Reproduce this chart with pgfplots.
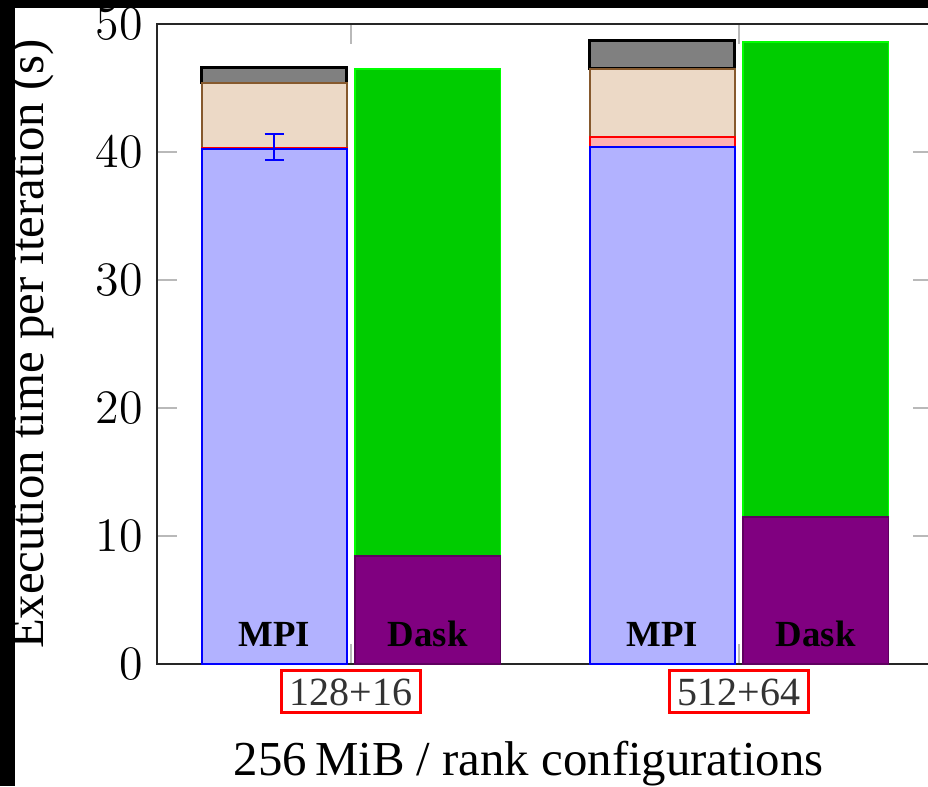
\documentclass[border=0pt]{standalone}
\usepackage{fontspec}
\setmainfont{Liberation Serif}
\usepackage{pgfplots}
\pgfplotsset{compat=1.18}
\pgfplotsset{base/.style={width=194pt,height=160pt,scale only axis,
  xmin=-0.5,xmax=1.5,ymin=0,ymax=50,at={(0,0)},anchor=south west}}
\begin{document}
\begin{tikzpicture}
\path[use as bounding box] (-39.25pt,-30.5pt) rectangle (192.75pt,166pt);
\clip (-39.25pt,-30.5pt) rectangle (192.75pt,166pt);
\fill[white] (-39.25pt,-30.5pt) rectangle (192.75pt,166pt);
\begin{axis}[base,
  ybar stacked, bar width=0.374, bar shift=-0.198,
  axis line style={black!85, line width=0.5pt},
  xtick={0,1}, xticklabels={128+16,512+64},
  ytick={0,10,20,30,40,50},
  major tick length=5pt,
  major tick style={gray!55, line width=0.5pt},
  yticklabel style={font=\fontsize{12.4}{14}\selectfont},
  xticklabel style={draw=red, line width=0.8pt, text=black!80,
    font=\fontsize{10}{11}\selectfont, inner xsep=2pt, inner ysep=1.8pt,
    text height=6.9pt, text depth=0pt, yshift=-1.3pt},
  ylabel={Execution time per iteration (s)},
  ylabel style={font=\fontsize{12.2}{14}\selectfont, at={(axis description cs:-0.162,0.5)}, anchor=center},
  xlabel={256\,MiB / rank configurations},
  xlabel style={font=\fontsize{12.2}{14}\selectfont, at={(axis description cs:0.479,-0.1734)}, anchor=base},
]
\addplot[fill=blue!30, draw=blue, line width=0.5pt] coordinates {(0,40.2) (1,40.4)};
\addplot[fill=red!30, draw=red, line width=0.5pt] coordinates {(0,0.1) (1,0.8)};
\addplot[fill=brown!30, draw=brown!70!black, line width=0.5pt] coordinates {(0,5.1) (1,5.3)};
\addplot[fill=gray, draw=black, line width=0.7pt] coordinates {(0,1.2) (1,2.2)};
\end{axis}
\begin{axis}[base, hide axis, ybar stacked, bar width=0.374, bar shift=0.198]
\addplot[fill=violet, draw=violet!75!black, line width=0.4pt] coordinates {(0,8.45) (1,11.5)};
\addplot[fill=green!80!black, draw=green, line width=0.4pt] coordinates {(0,38.05) (1,37.1)};
\end{axis}
\begin{axis}[base, hide axis]
\addplot[draw=none, forget plot, error bars/.cd, y dir=both, y explicit,
  error bar style={draw=blue, line width=0.6pt},
  error mark options={draw=blue, rotate=90, mark size=2.4pt, line width=0.6pt}]
  coordinates {(-0.198,40.4) +- (0,1.0)};
\node[font=\bfseries\fontsize{9.2}{11}\selectfont, anchor=base] at (axis cs:-0.198,1.4) {MPI};
\node[font=\bfseries\fontsize{9.2}{11}\selectfont, anchor=base] at (axis cs:0.198,1.4) {Dask};
\node[font=\bfseries\fontsize{9.2}{11}\selectfont, anchor=base] at (axis cs:0.802,1.4) {MPI};
\node[font=\bfseries\fontsize{9.2}{11}\selectfont, anchor=base] at (axis cs:1.198,1.4) {Dask};
\end{axis}
\fill[black] (-39.25pt,164pt) rectangle (192.75pt,166pt);
\fill[black] (-39.25pt,-30.5pt) rectangle (-35.5pt,166pt);
\end{tikzpicture}
\end{document}
